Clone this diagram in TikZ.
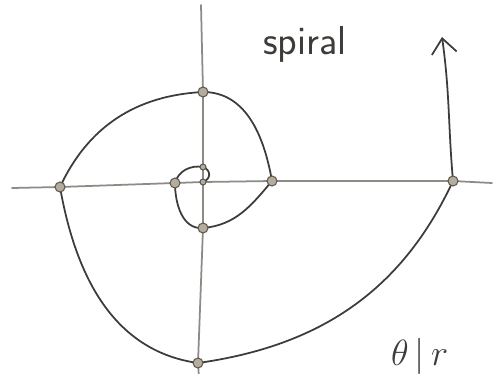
\documentclass[tikz,border=0pt]{standalone}
\usepackage{xcolor}
\usepackage{tikz}
\usetikzlibrary{arrows.meta}
\definecolor{pencil}{HTML}{3E3B38}
\definecolor{axisgray}{HTML}{8E8A84}
\definecolor{dotfill}{HTML}{B5AC9C}

\begin{document}
\begin{tikzpicture}[x=0.02cm,y=0.02cm,font=\sffamily,
  axis/.style={axisgray,line width=1pt,line cap=round},
  curve/.style={pencil,line width=1pt,line cap=round},
  dot/.style={draw=pencil!85,fill=dotfill,line width=0.6pt}]
  \useasboundingbox (0,0) rectangle (494,373);
  % crossings of the spiral with the axes
  \foreach \x/\y/\n in {203/191/a0,203/206/a1,175/190/a2,203/145/a3,272/192/a4,203/281/a5,60/186/a6,198/10/a7,453/192/a8}{
    \coordinate (\n) at (\x,\y);}
  \coordinate (hl) at (12,185); \coordinate (hr) at (492,190);
  \coordinate (vt) at (201,368); \coordinate (vb) at (199,-5);
  \coordinate (tip) at (442,336);
  % axes
  \draw[axis] (hl) -- (a6) -- (a2) -- (a0) -- (a4) -- (a8) -- (hr);
  \draw[axis] (vt) -- (a5) -- (a1) -- (a0) -- (a3) -- (a7) -- (vb);
  % spiral
  \draw[curve,-{Straight Barb[length=3mm,width=5mm]}] (a0) to[out=20,in=-20,looseness=1.5] (a1)
    to[out=170,in=75] (a2) to[out=-90,in=185] (a3) to[out=5,in=-130] (a4)
    to[out=100,in=0] (a5) to[out=183,in=65] (a6) to[out=-80,in=172] (a7)
    to[out=8,in=-115] (a8) to[out=95,in=-82] (tip);
  \foreach \n in {a2,a3,a4,a5,a6,a7,a8}{\draw[dot] (\n) circle (5);}
  \foreach \n in {a0,a1}{\draw[dot] (\n) circle (3);}
  % labels
  \node[pencil,font=\sffamily\fontsize{23}{27}\selectfont,anchor=base west] (name) at (257,319) {spiral};
  \node[pencil,font=\fontsize{22}{26}\selectfont,anchor=base west] (axes) at (385,8) {$\theta\,|\,r$};
\end{tikzpicture}
\end{document}
